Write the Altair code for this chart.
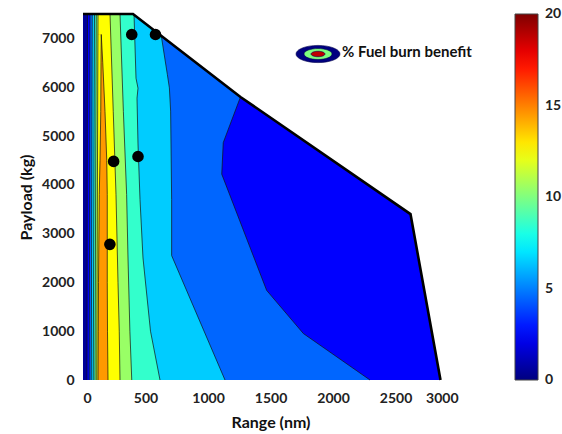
import altair as alt
import pandas as pd

# ---------------- data ----------------
# Right-hand (falling) contour lines: payload (kg) -> range (nm)
R25_P = [0, 7500]
R25_X = [3000, 3000]
R45_P = [0, 952, 1837, 4218, 4864, 5816, 7500]
R45_X = [2296, 1763, 1469, 1110, 1122, 1262, 1510]
R65_P = [0, 2550, 3700, 5510, 5986, 6258, 7007, 7500]
R65_X = [1136, 709, 709, 701, 691, 675, 629, 600]
R85_P = [0, 1000, 2500, 3700, 4837, 5776, 5980, 6184, 7500]
R85_X = [616, 540, 480, 456, 440, 432, 440, 424, 408]
R105_P = [0, 1000, 2500, 3800, 5500, 7500]
R105_X = [390, 375, 360, 349, 323, 296]
R125_P = [0, 1000, 2000, 3800, 5500, 7500]
R125_X = [296, 290, 280, 264, 242, 216]
R145_P = [0, 1000, 2000, 3800, 4500, 5500, 6500, 7080]
R145_X = [200, 196, 194, 194, 190, 176, 158, 146]

# Left-hand (rising) contour lines
L_P = [0, 7500]
L25_X = [32, 36]
L45_X = [50, 56]
L65_X = [66, 74]
L85_X = [82, 92]
L105_X = [96, 106]
L125_X = [110, 120]
L145_P = [0, 1000, 2000, 3800, 4500, 5500, 6500, 7080]
L145_X = [120, 122, 124, 130, 136, 142, 144, 146]

# Payload-range envelope
ENV_P = [0, 3400, 5800, 7500]
ENV_X = [2860, 2620, 1260, 400]
OUTLINE_X = [0, 400, 1260, 2620, 2860]
OUTLINE_P = [7500, 7500, 5800, 3400, 0]

# Black dots
DOT_X = [390, 580, 245, 440, 215]
DOT_P = [7080, 7080, 4480, 4580, 2780]

RANGE_TICKS = [0, 500, 1000, 1500, 2000, 2500, 3000]
PAYLOAD_TICKS = [0, 1000, 2000, 3000, 4000, 5000, 6000, 7000]
CBAR_TICKS = [0, 5, 10, 15, 20]
CBAR_MINOR = [5, 10, 15]

JET_DOMAIN = [0, 2.5, 7.5, 12.5, 17.5, 20]
JET_RANGE = ["#00007f", "#0000ff", "#00ffff", "#ffff00", "#ff0000", "#7f0000"]

FONT = "Lato"

# ---------------- encodings ----------------
xenc = alt.X("range:Q", scale=alt.Scale(domain=[0, 3000], nice=False, zero=False),
             axis=alt.Axis(values=RANGE_TICKS, format="d", title="Range (nm)",
                           titlePadding=9, labelPadding=11))
yenc = alt.Y("payload:Q", scale=alt.Scale(domain=[0, 7500], nice=False, zero=False),
             axis=alt.Axis(values=PAYLOAD_TICKS, format="d", title="Payload (kg)",
                           titlePadding=7, labelPadding=9))
cenc = alt.Color("level:Q",
                 scale=alt.Scale(domain=JET_DOMAIN, range=JET_RANGE, interpolate="rgb"),
                 legend=alt.Legend(title=None, labelExpr="''",
                                   gradientLength=366, gradientThickness=23, offset=57,
                                   gradientStrokeColor="#444", gradientStrokeWidth=1))


def band(payload, left, right, level):
    df = pd.DataFrame({"payload": payload, "range": left, "range2": right,
                       "level": [level] * len(payload)})
    return alt.Chart(df).mark_area(orient="horizontal", opacity=1).encode(
        y=yenc, x=xenc, x2="range2:Q", color=cenc)


layers = []
# Regions "value >= level", painted in ascending order (from x = 0 to falling contour)
rights = [(R25_P, R25_X, 2.5), (R45_P, R45_X, 4.5), (R65_P, R65_X, 6.5),
          (R85_P, R85_X, 8.5), (R105_P, R105_X, 10.5), (R125_P, R125_X, 12.5),
          (R145_P, R145_X, 14.5)]
for p, xr, lv in rights:
    layers.append(band(p, [0] * len(p), xr, lv))

# Rising side: regions left of each rising contour take the next lower level
lefts = [(L145_P, L145_X, 12.5), (L_P, L125_X, 10.5), (L_P, L105_X, 8.5),
         (L_P, L85_X, 6.5), (L_P, L65_X, 4.5), (L_P, L45_X, 2.5), (L_P, L25_X, 0.5)]
for p, xl, lv in lefts:
    layers.append(band(p, [0] * len(p), xl, lv))

# Contour lines
rows = []
cid = 0
for p, xs, _ in rights[1:]:
    for a, b in zip(p, xs):
        rows.append({"cid": cid, "payload": a, "range": b})
    cid += 1
for p, xs, _ in lefts:
    for a, b in zip(p, xs):
        rows.append({"cid": cid, "payload": a, "range": b})
    cid += 1
lines_df = pd.DataFrame(rows)
layers.append(alt.Chart(lines_df).mark_line(color="#111", strokeWidth=0.7).encode(
    x=xenc, y=yenc, detail="cid:N", order="payload:Q"))

# White mask outside the envelope
mask_df = pd.DataFrame({"payload": ENV_P, "range": ENV_X, "range2": [3000] * len(ENV_P)})
layers.append(alt.Chart(mask_df).mark_area(orient="horizontal", color="white", opacity=1).encode(
    y=yenc, x=xenc, x2="range2:Q"))

# Envelope outline
out_df = pd.DataFrame({"range": OUTLINE_X, "payload": OUTLINE_P, "seq": list(range(len(OUTLINE_X)))})
layers.append(alt.Chart(out_df).mark_line(color="black", strokeWidth=2.6).encode(
    x=xenc, y=yenc, order="seq:Q"))

# Dots
dot_df = pd.DataFrame({"range": DOT_X, "payload": DOT_P})
layers.append(alt.Chart(dot_df).mark_circle(size=135, color="black", opacity=1).encode(
    x=xenc, y=yenc))

# Annotation: ellipse icon + text
ELL = ("M-1,0 C-1,-0.215 -0.552,-0.39 0,-0.39 C0.552,-0.39 1,-0.215 1,0 "
       "C1,0.215 0.552,0.39 0,0.39 C-0.552,0.39 -1,0.215 -1,0 Z")
icon_df = pd.DataFrame({"k": [0]})
for sz, col in [(1936, "#00007f"), (784, "#7fff7f"), (196, "#c00000")]:
    layers.append(alt.Chart(icon_df).mark_point(shape=ELL, size=sz, filled=True, fill=col,
                                                stroke="#00004a", strokeWidth=0.6, opacity=1).encode(
        x=alt.value(235), y=alt.value(40)))
layers.append(alt.Chart(icon_df).mark_text(text="% Fuel burn benefit", align="left",
                                           baseline="middle", font=FONT, fontWeight="bold",
                                           fontSize=15, color="#111").encode(
    x=alt.value(259), y=alt.value(38)))

# Colour-bar labels and small ticks, placed with their own 0-20 scale
cb_scale = alt.Scale(domain=[0, 20], nice=False, zero=False)
cb_df = pd.DataFrame({"v": CBAR_TICKS})
cb_labels = alt.Chart(cb_df).mark_text(align="left", baseline="middle", font=FONT,
                                       fontWeight="bold", fontSize=14, color="#222").encode(
    x=alt.value(462), y=alt.Y("v:Q", scale=cb_scale, axis=None), text="v:Q")
cbm_df = pd.DataFrame({"v": CBAR_MINOR})
cb_ticks = alt.Chart(cbm_df).mark_rule(color="#444", strokeWidth=1).encode(
    x=alt.value(451), x2=alt.value(455), y=alt.Y("v:Q", scale=cb_scale, axis=None))
cb_layer = alt.layer(cb_labels, cb_ticks)

chart = alt.layer(alt.layer(*layers), cb_layer).resolve_scale(y="independent").properties(
    width=375, height=366,
    padding={"left": 83, "top": 14, "right": 104, "bottom": 54},
    autosize=alt.AutoSizeParams(type="none"),
).configure_view(stroke=None).configure_axis(
    domain=False, ticks=False, grid=False,
    labelFont=FONT, labelFontWeight="bold", labelFontSize=14, labelColor="#222",
    titleFont=FONT, titleFontWeight="bold", titleFontSize=16, titleColor="#111",
)

chart.save("out.html", embed_options={"renderer": "svg", "actions": False})
